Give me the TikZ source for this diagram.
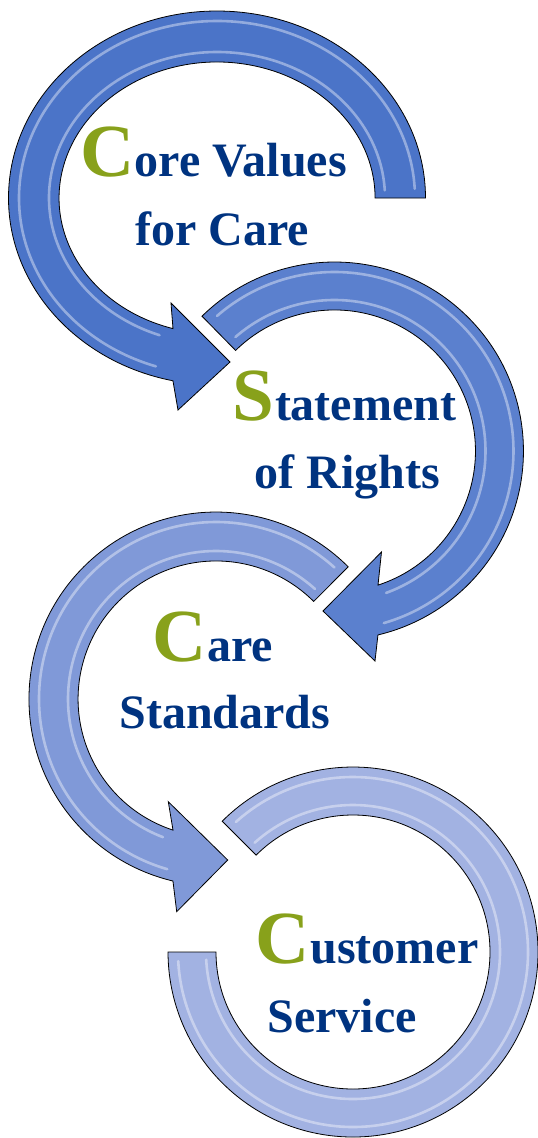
\documentclass[tikz,border=0pt]{standalone}
\usepackage{fontspec}
\setmainfont{Liberation Serif}
\usetikzlibrary{positioning}
\definecolor{arrowA}{RGB}{75,116,200}
\definecolor{arrowB}{RGB}{91,128,206}
\definecolor{arrowC}{RGB}{128,153,216}
\definecolor{arrowD}{RGB}{162,178,226}
\definecolor{wordblue}{RGB}{0,51,128}
\definecolor{initgreen}{RGB}{136,161,27}
\tikzset{
  band/.style={draw=black, line width=0.8pt, fill=#1},
  glint/.style={white, opacity=.4, line width=2.6pt, line cap=round},
  initial/.style={text=initgreen, inner sep=0pt, anchor=base west,
    font=\fontsize{75}{75}\selectfont\bfseries},
  word/.style={text=wordblue, inner sep=0pt,
    font=\fontsize{48}{48}\selectfont\bfseries},
}

\begin{document}
\begin{tikzpicture}[x=1pt, y=-1pt]
  \useasboundingbox (0,0) rectangle (538,1138);

  % the four turning arrows
  \draw[band=arrowA] (425.5,198) arc[start angle=0, end angle=-257.8, x radius=208.5, y radius=187]
    -- (178,410) -- (230,362) -- (171,303) -- (173,328.6)
    arc[start angle=-253.8, end angle=0, x radius=158, y radius=136] -- cycle;
  \draw[band=arrowB] (202,316.2) arc[start angle=-134.5, end angle=76.7, radius=189]
    -- (375,661) -- (323,611) -- (381.5,552) -- (378,585.1)
    arc[start angle=72, end angle=-134.5, radius=141] -- cycle;
  \draw[band=arrowC] (348.2,566.8) arc[start angle=-45, end angle=-256.7, radius=187]
    -- (176.7,911.7) -- (227.7,860) -- (168.3,801.7) -- (173,830.1)
    arc[start angle=-251.8, end angle=-45, radius=138] -- cycle;
  \draw[band=arrowD] (222.2,821.2) arc[start angle=-135, end angle=180, radius=185]
    -- (216,952) arc[start angle=180, end angle=-135, radius=137] -- cycle;

  % bevel glints along the bands
  \foreach \cx/\cy/\rx/\ry/\s/\e in {217/198/198/177/-3/-252, 217/198/168/146/-3/-250,
      334.5/451/179/179/-131/74, 334.5/451/151/151/-131/70,
      216/699/177/177/-48/-254, 216/699/148/148/-48/-249,
      353/952/175/175/-132/177, 353/952/147/147/-132/177}
    \draw[glint, shift={(\cx,\cy)}] ({\rx*cos(\s)},{\ry*sin(\s)})
      arc[start angle=\s, end angle=\e, x radius=\rx, y radius=\ry];

  % labels
  \node[initial] (core-C) at (80,176) {C};
  \node[word, anchor=base west] (core-1) at (core-C.base east) {ore Values};
  \node[word, anchor=base] (core-2) at (222,245) {for Care};

  \node[initial] (rights-S) at (232.7,420) {S};
  \node[word, anchor=base west] (rights-1) at (rights-S.base east) {tatement};
  \node[word, anchor=base] (rights-2) at (347.4,488) {of Rights};

  \node[initial] (care-C) at (152.7,661) {C};
  \node[word, anchor=base west] (care-1) at (care-C.base east) {are};
  \node[word, anchor=base] (care-2) at (224.8,728) {Standards};

  \node[initial] (cust-C) at (255.7,963) {C};
  \node[word, anchor=base west] (cust-1) at (cust-C.base east) {ustomer};
  \node[word, anchor=base] (cust-2) at (342.2,1032) {Service};
\end{tikzpicture}
\end{document}
